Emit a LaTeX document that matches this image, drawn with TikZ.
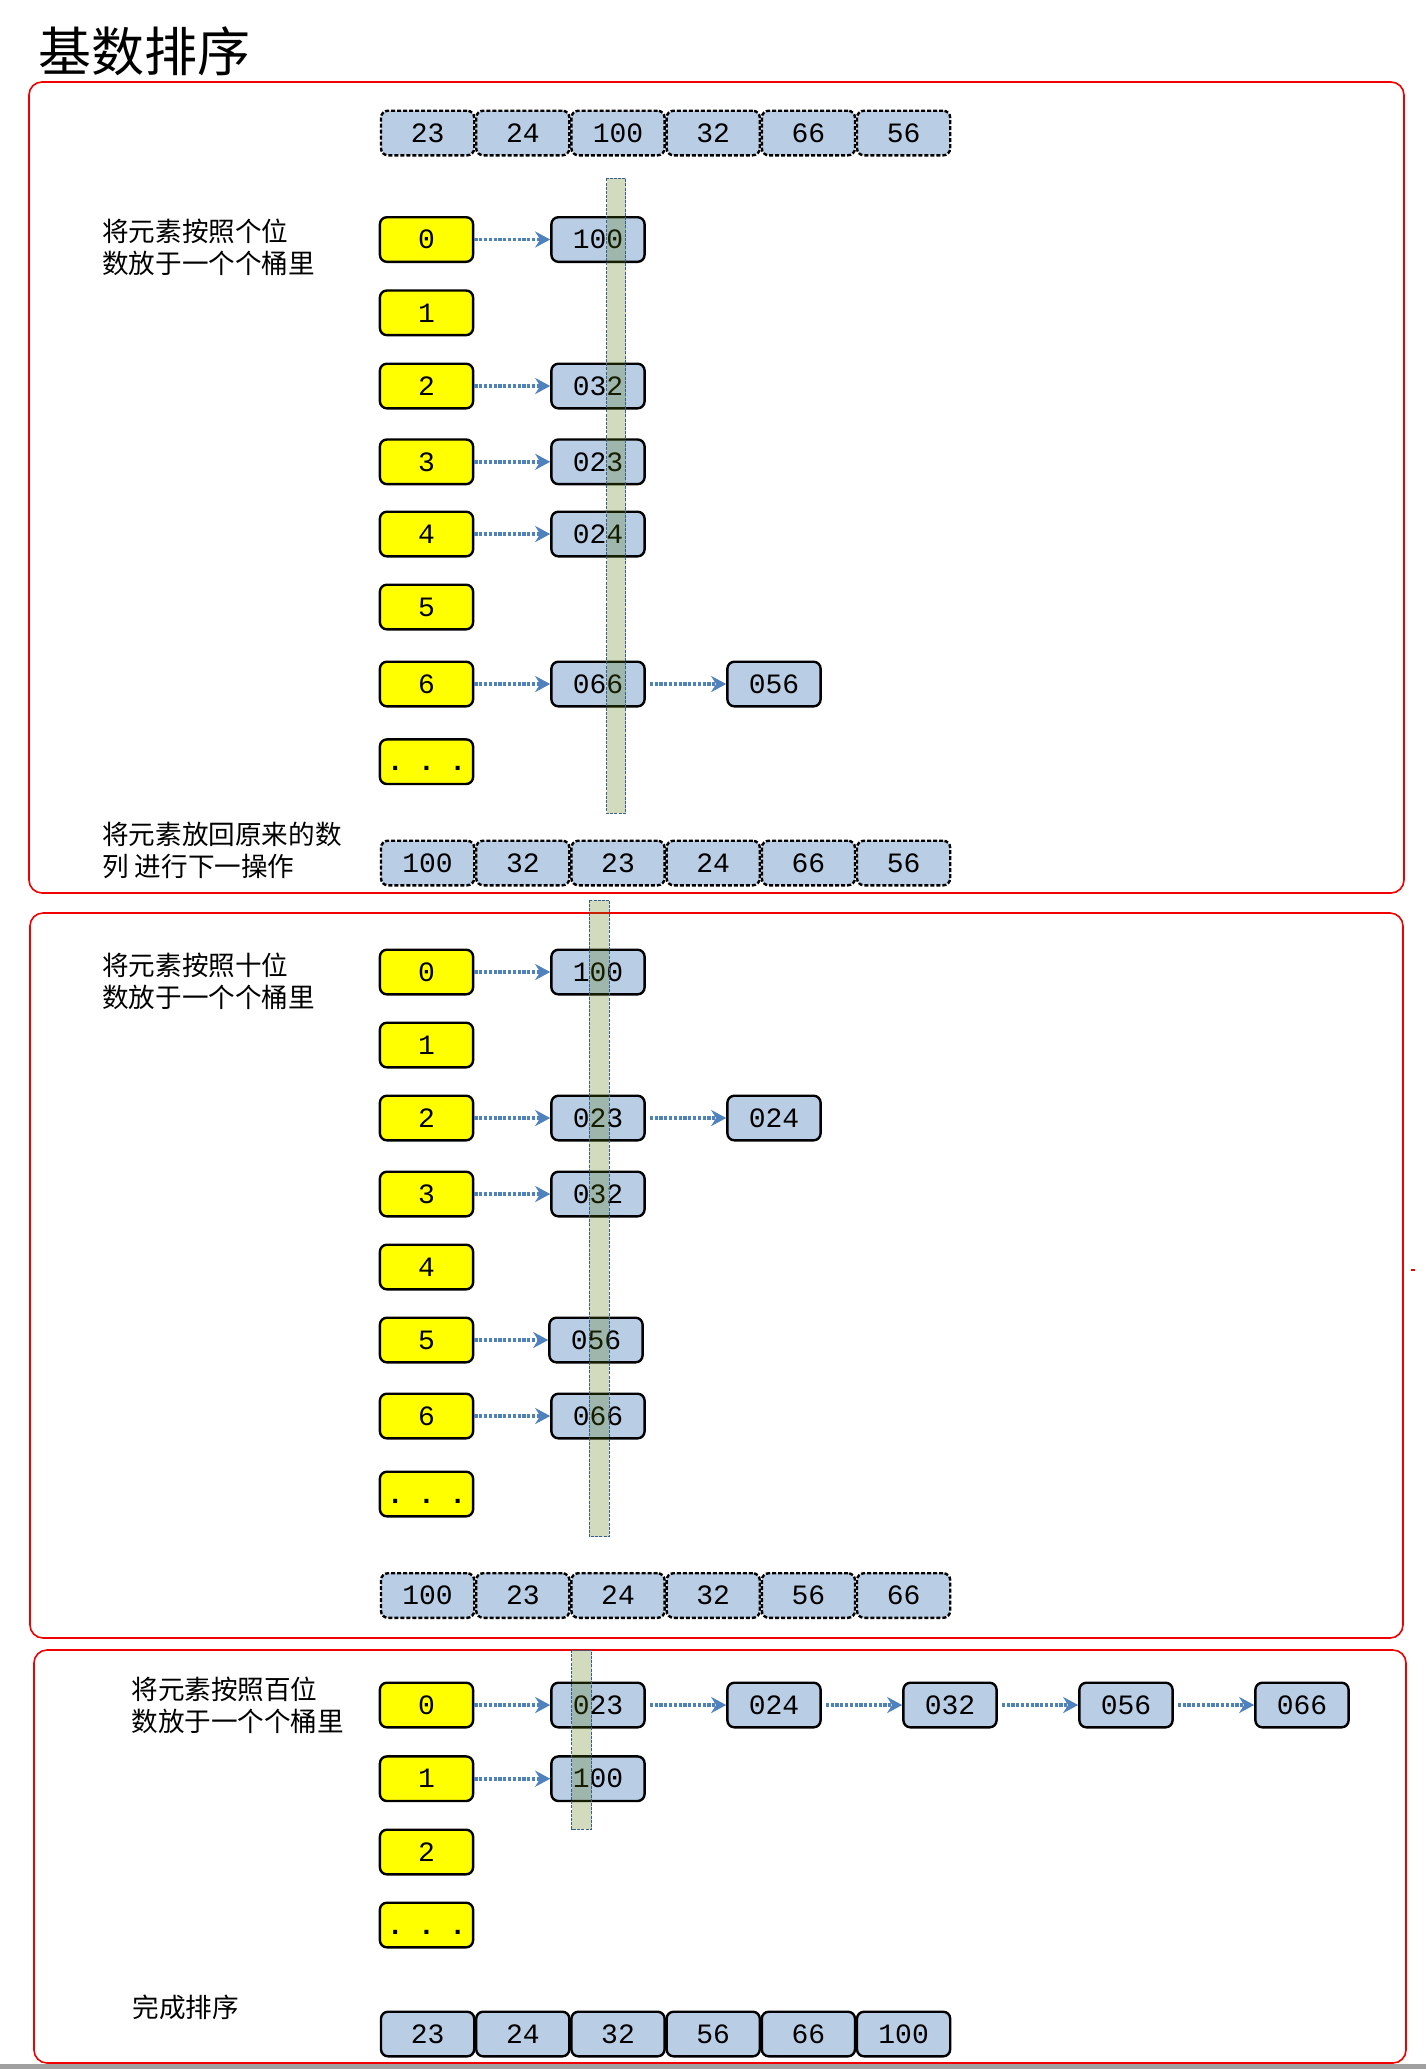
\documentclass[tikz,border=0pt]{standalone}
\usepackage{fontspec}
\usepackage{xcolor}
\usepackage{tikz}
\usetikzlibrary{arrows.meta}
\newfontfamily\cjk{Noto Sans CJK SC}
\newfontfamily\digits{Liberation Mono}
\definecolor{BoxBlue}{HTML}{B9CDE5}
\definecolor{BucketYellow}{HTML}{FFFF00}
\definecolor{ArrowBlue}{HTML}{4F81BD}
\definecolor{BarGreen}{RGB}{88,119,10}
\definecolor{BarEdge}{HTML}{385D8A}
\definecolor{FrameRed}{HTML}{F00000}
\definecolor{StripGray}{RGB}{160,160,160}
\newcommand{\moredots}{\vphantom{0}.\hspace{7.2pt}.\hspace{7.2pt}.}

\begin{document}
\begin{tikzpicture}[x=0.5pt,y=-0.5pt,
    every node/.style={font=\digits\fontsize{14}{16}\selectfont},
    cell/.style={draw,line width=1.2pt,fill=BoxBlue,rounded corners=3.5pt,
                 minimum width=46.6pt,minimum height=22.3pt,inner sep=0pt},
    bucket/.style={cell,fill=BucketYellow},
    dcell/.style={cell,dash pattern=on 2pt off 1pt},
    note/.style={font=\cjk\fontsize{13.3}{16}\selectfont,anchor=west,
                 align=left,inner sep=0pt},
    ar/.style={-{Stealth[length=7.5pt,width=8pt]},ArrowBlue,line width=1.8pt,
               dash pattern=on 1.6pt off 0.8pt},
    bar/.style={fill=BarGreen,fill opacity=0.26,draw=BarEdge,line width=0.5pt,
                dash pattern=on 1.5pt off 0.6pt},
    frame/.style={draw=FrameRed,line width=0.8pt,rounded corners=6.5pt}]
  \fill[white] (0,0) rectangle (1426,2069);
  \useasboundingbox (0,0) rectangle (1426,2069);
  \node[note,font=\cjk\fontsize{26.5}{30}\selectfont] (title) at (38,51) {基数排序};

  % pass 1: units digit
  \draw[frame] (29,82) rectangle (1404,893);
  \foreach \v [count=\i] in {23,24,100,32,66,56}
    \node[dcell] (in\i) at ({427.6+95.2*(\i-1)},133) {\v};
  \node[note] (unote) at (102,247) {将元素按照个位\\数放于一个个桶里};
  \foreach \k/\y in {0/239.5,1/312.8,2/386,3/461.8,4/534,5/607,6/684}
    \node[bucket] (u\k) at (426.5,\y) {\k};
  \node[bucket,font=\digits\bfseries\fontsize{14}{16}\selectfont] (udots) at (426.5,761.7) {\moredots};
  \node[cell] (u100) at (598,239.5) {100};
  \node[cell] (u032) at (598,386) {032};
  \node[cell] (u023) at (598,461.8) {023};
  \node[cell] (u024) at (598,534) {024};
  \node[cell] (u066) at (598,684) {066};
  \node[cell] (u056) at (774,684) {056};
  \draw[ar] (u0)--(u100); \draw[ar] (u2)--(u032); \draw[ar] (u3)--(u023);
  \draw[ar] (u4)--(u024); \draw[ar] (u6)--(u066);
  \draw[ar,shorten <=2pt] (u066)--(u056);
  \draw[bar] (606.7,178.3) rectangle (625.7,813.3);
  \node[note] (ubacknote) at (102,850.5) {将元素放回原来的数\\列 进行下一操作};
  \foreach \v [count=\i] in {100,32,23,24,66,56}
    \node[dcell] (ua\i) at ({427.6+95.2*(\i-1)},863) {\v};

  % pass 2: tens digit
  \draw[frame] (30,913) rectangle (1403,1638);
  \node[note] (tnote) at (102,981) {将元素按照十位\\数放于一个个桶里};
  \foreach \k/\y in {0/972,1/1045,2/1118,3/1194,4/1267,5/1340,6/1416}
    \node[bucket] (t\k) at (426.5,\y) {\k};
  \node[bucket,font=\digits\bfseries\fontsize{14}{16}\selectfont] (tdots) at (426.5,1494) {\moredots};
  \node[cell] (t100) at (598,972) {100};
  \node[cell] (t023) at (598,1118) {023};
  \node[cell] (t024) at (774,1118) {024};
  \node[cell] (t032) at (598,1194) {032};
  \node[cell] (t056) at (596,1340) {056};
  \node[cell] (t066) at (598,1416) {066};
  \draw[ar] (t0)--(t100); \draw[ar] (t2)--(t023); \draw[ar] (t3)--(t032);
  \draw[ar] (t5)--(t056); \draw[ar] (t6)--(t066);
  \draw[ar,shorten <=2pt] (t023)--(t024);
  \draw[bar] (589.3,900) rectangle (609.3,1536.7);
  \foreach \v [count=\i] in {100,23,24,32,56,66}
    \node[dcell] (ta\i) at ({427.6+95.2*(\i-1)},1595.5) {\v};
  \draw[FrameRed,line width=1pt] (1411,1270) -- (1415,1270);

  % pass 3: hundreds digit
  \draw[frame] (34,1650) rectangle (1406,2063);
  \node[note] (hnote) at (131,1705) {将元素按照百位\\数放于一个个桶里};
  \foreach \k/\y in {0/1705,1/1778.7,2/1852}
    \node[bucket] (h\k) at (426.5,\y) {\k};
  \node[bucket,font=\digits\bfseries\fontsize{14}{16}\selectfont] (hdots) at (426.5,1925) {\moredots};
  \node[cell] (h023) at (598,1705) {023};
  \node[cell] (h024) at (774,1705) {024};
  \node[cell] (h032) at (950,1705) {032};
  \node[cell] (h056) at (1126,1705) {056};
  \node[cell] (h066) at (1302,1705) {066};
  \node[cell] (h100) at (598,1778.7) {100};
  \draw[ar] (h0)--(h023); \draw[ar] (h1)--(h100);
  \draw[ar,shorten <=2pt] (h023)--(h024); \draw[ar,shorten <=2pt] (h024)--(h032);
  \draw[ar,shorten <=2pt] (h032)--(h056); \draw[ar,shorten <=2pt] (h056)--(h066);
  \draw[bar] (571.7,1650) rectangle (591.7,1829.3);
  \node[note] (donenote) at (132,2007.5) {完成排序};
  \foreach \v [count=\i] in {23,24,32,56,66,100}
    \node[cell] (out\i) at ({427.6+95.2*(\i-1)},2034) {\v};

  \fill[StripGray] (0,2064) rectangle (1426,2069);
\end{tikzpicture}
\end{document}
